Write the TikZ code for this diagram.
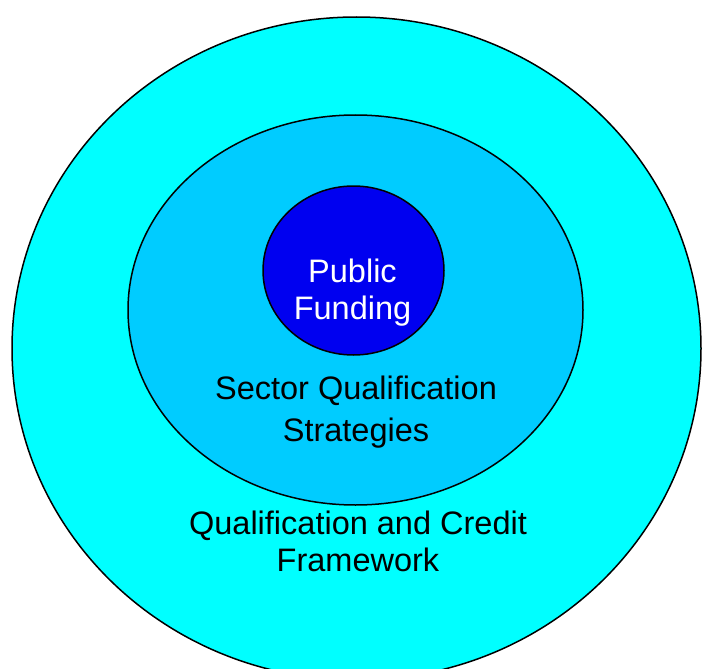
\documentclass[tikz,border=0pt]{standalone}
\usepackage{fontspec}
\setmainfont{Liberation Sans}
\usepackage{tikz}
\usetikzlibrary{shapes.geometric}
\definecolor{qcfcyan}{RGB}{0,255,255}
\definecolor{sqsblue}{RGB}{0,204,255}
\definecolor{pfblue}{RGB}{0,0,240}
\tikzset{
    myring/.style={
        draw=black,
        line width=1.5pt,
        ellipse,
        inner sep=0,
    },
    mylabel/.style={
        align=center,
        inner sep=0,
        font=\fontsize{32.5}{37}\selectfont,
    },
}
\begin{document}
\begin{tikzpicture}[x=1pt, y=-1pt]
            \useasboundingbox (0, 0) rectangle (702, 669) ;
            \clip (0, 0) rectangle (702, 669) ;
            \node[myring, fill=qcfcyan, minimum width=689, minimum height=663] at (356.5, 348.5) (QCF) {} ;
            \node[myring, fill=sqsblue, minimum width=455, minimum height=390] at (355.5, 310) (SQS) {} ;
            \node[myring, fill=pfblue, minimum width=181, minimum height=169] at (353.5, 270.5) (PF) {} ;

            \node[mylabel, text=white] at (352.5, 293) (PFtext) {Public\\Funding} ;
            \node[mylabel] at (356, 412.5) (SQStext) {Sector Qualification\\[5pt]Strategies} ;
            \node[mylabel] at (358, 541.7) (QCFtext) {Qualification and Credit\\Framework} ;
        \end{tikzpicture}
\end{document}
